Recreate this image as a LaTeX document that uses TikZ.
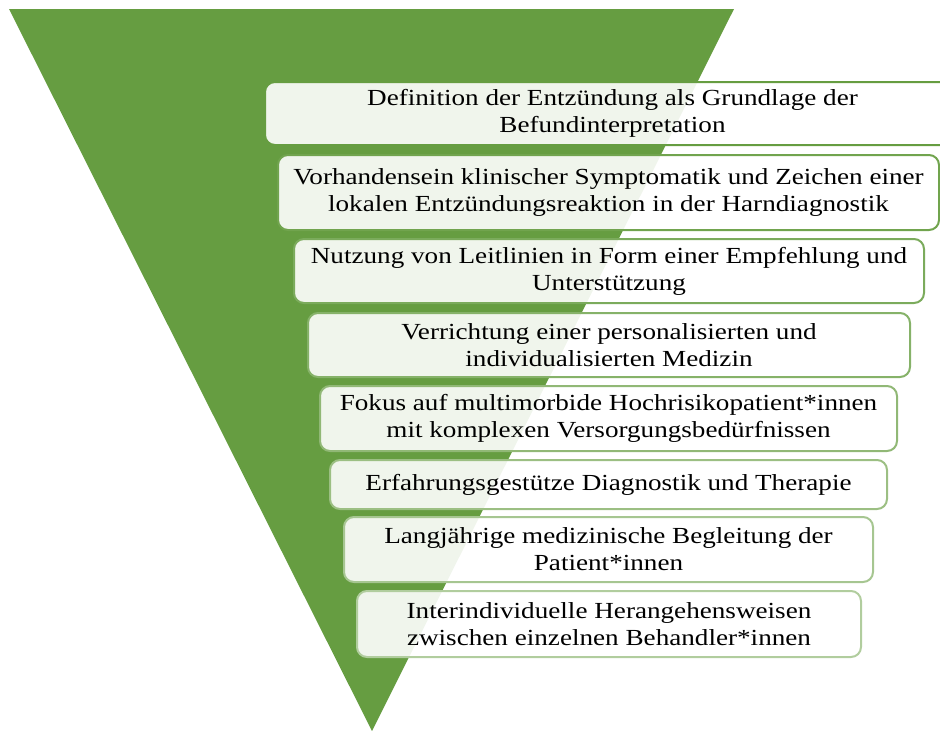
\documentclass[tikz,border=0pt]{standalone}
\usepackage{fontspec}
\setmainfont{Liberation Serif}[FakeStretch=1.18]
\definecolor{tri}{RGB}{102,157,65}
\begin{document}
\begin{tikzpicture}[x=1pt,y=-1pt,
  lvl/.style={draw=tri!#1!white, line width=2pt, rounded corners=10pt,
    fill=white, fill opacity=0.9, text opacity=1, inner sep=0pt,
    align=center, font=\fontsize{23}{27}\selectfont, text=black}]
\useasboundingbox (0,0) rectangle (940,731);
\begin{scope}
\clip (0,0) rectangle (940,731);
\fill[tri] (9,9) -- (734,9) -- (372,731) -- cycle;
\node[lvl=100, minimum width=695pt, minimum height=63pt] (b1) at (612.5,113.5)
  {Definition der Entzündung als Grundlage der\\Befundinterpretation};
\node[lvl=93, minimum width=661pt, minimum height=75pt] (b2) at (608.5,192.5)
  {Vorhandensein klinischer Symptomatik und Zeichen einer\\lokalen Entzündungsreaktion in der Harndiagnostik};
\node[lvl=86, minimum width=630pt, minimum height=64pt] (b3) at (609,271)
  {Nutzung von Leitlinien in Form einer Empfehlung und\\Unterstützung};
\node[lvl=79, minimum width=602pt, minimum height=64pt] (b4) at (609,345)
  {Verrichtung einer personalisierten und\\individualisierten Medizin};
\node[lvl=72, minimum width=577pt, minimum height=65pt] (b5) at (608.5,418.5)
  {Fokus auf multimorbide Hochrisikopatient*innen\\mit komplexen Versorgungsbedürfnissen};
\node[lvl=65, minimum width=557pt, minimum height=49pt] (b6) at (608.5,484.5)
  {Erfahrungsgestütze Diagnostik und Therapie};
\node[lvl=58, minimum width=529pt, minimum height=65pt] (b7) at (608.5,549.5)
  {Langjährige medizinische Begleitung der\\Patient*innen};
\node[lvl=51, minimum width=504pt, minimum height=66pt] (b8) at (609,624)
  {Interindividuelle Herangehensweisen\\zwischen einzelnen Behandler*innen};
\end{scope}
\end{tikzpicture}
\end{document}
